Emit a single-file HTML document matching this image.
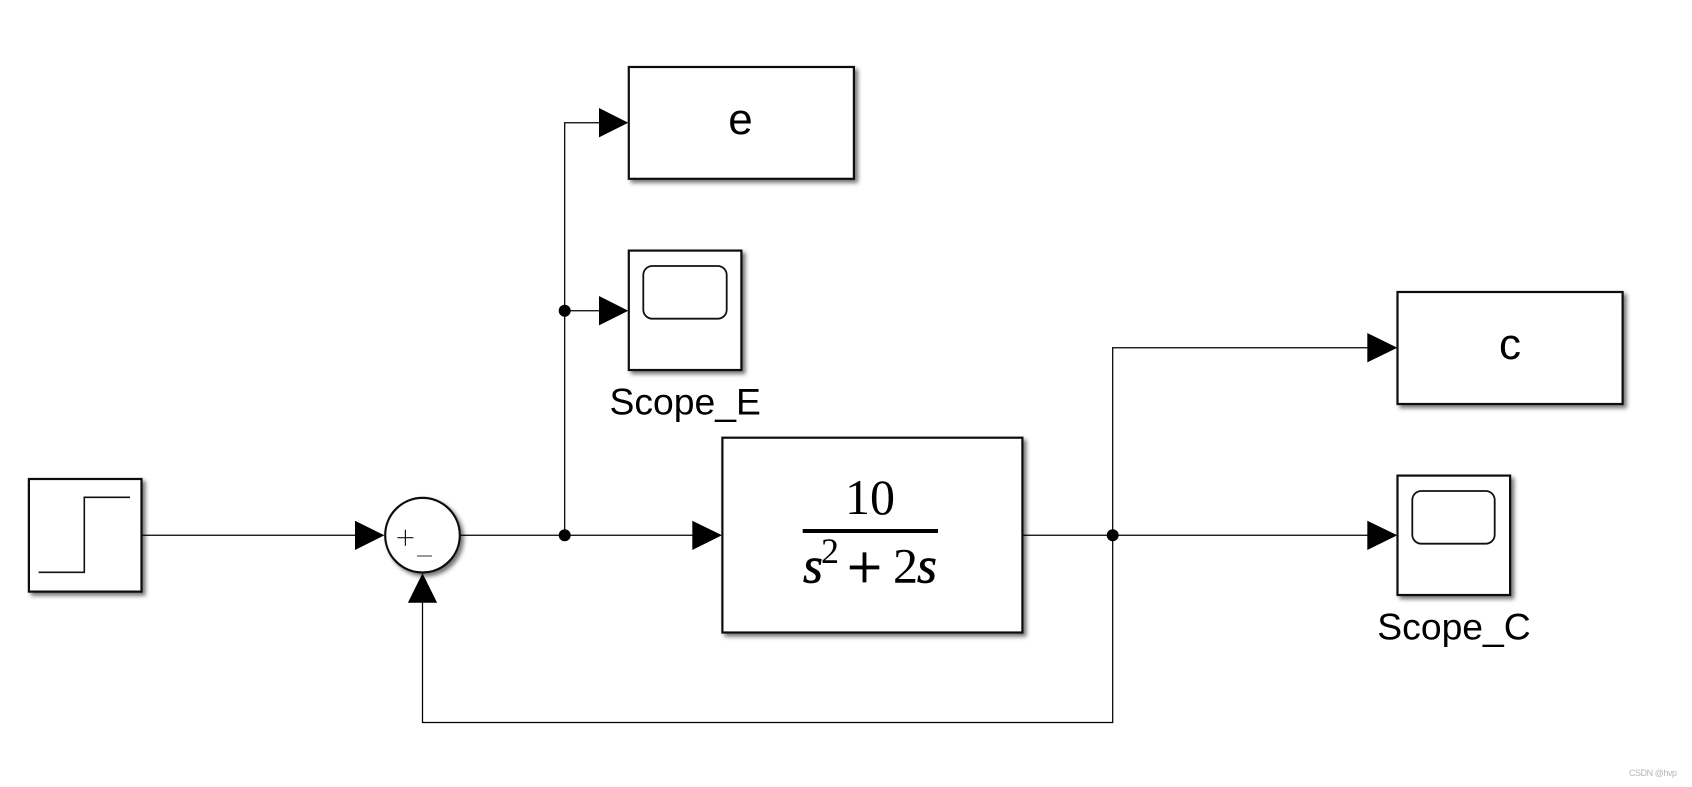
<!DOCTYPE html>
<html>
<head>
<meta charset="utf-8">
<style>
html,body{margin:0;padding:0;background:#fff;width:1692px;height:787px;overflow:hidden}
svg{display:block}
text{font-family:"Liberation Sans",sans-serif;fill:#000}
.m{font-family:"Liberation Serif",serif}
.t{stroke:#000;stroke-width:.7}
.b{fill:#fff;stroke:#111;stroke-width:2.2;filter:url(#sh)}
.l{fill:none;stroke:#000;stroke-width:1.25}
.s{fill:none;stroke:#111;stroke-width:1.6}
</style>
</head>
<body>
<svg width="1692" height="787" viewBox="0 0 1692 787" xmlns="http://www.w3.org/2000/svg">
<defs>
<filter id="sh" x="-10%" y="-10%" width="125%" height="125%">
<feDropShadow dx="3" dy="3" stdDeviation="2.2" flood-color="#000" flood-opacity="0.55"/>
</filter>
</defs>

<!-- connectors -->
<path class="l" d="M142 535.3H356"/>
<path class="l" d="M460.5 535.3H693"/>
<path class="l" d="M564.7 535.3V122.7H600"/>
<path class="l" d="M564.7 310.7H600"/>
<path class="l" d="M1023 535.3H1368"/>
<path class="l" d="M1112.7 535.3V347.7H1368"/>
<path class="l" d="M1112.7 535.3V722.5H422.5V602"/>

<!-- blocks -->
<rect class="b" x="28.9" y="479" width="112.6" height="112.6"/>
<path class="s" d="M38.6 572.3H84.3V497.3H130"/>

<circle class="b" cx="422.5" cy="535.2" r="37.3"/>
<path d="M405.4 529.7v16M397.4 537.7h16" fill="none" stroke="#111" stroke-width="1.2"/>
<path d="M417 556h15" fill="none" stroke="#777" stroke-width="1.5"/>

<rect class="b" x="628.8" y="67" width="225.1" height="111.8"/>
<text x="740.5" y="134" font-size="44" text-anchor="middle">e</text>

<rect class="b" x="628.8" y="250.6" width="112.6" height="119.4"/>
<rect x="643.3" y="266" width="83.4" height="52.7" rx="9" ry="9" fill="none" stroke="#111" stroke-width="1.8"/>
<text x="609.5" y="414.5" font-size="37.3">Scope_E</text>

<rect class="b" x="722.4" y="437.7" width="300" height="194.8"/>
<text class="m" x="870" y="514" font-size="50" text-anchor="middle">10</text>
<rect x="802.7" y="529" width="135.3" height="4" fill="#000"/>
<text class="m t" x="803" y="582.3" font-size="51" font-style="italic">s</text>
<text class="m" x="821" y="563" font-size="36">2</text>
<text class="m t" x="847" y="588" font-size="62">+</text>
<text class="m" x="893" y="582.3" font-size="50">2</text>
<text class="m t" x="917" y="582.3" font-size="51" font-style="italic">s</text>

<rect class="b" x="1397.5" y="292" width="225.1" height="112"/>
<text x="1510" y="359" font-size="44" text-anchor="middle">c</text>

<rect class="b" x="1397.5" y="475.6" width="112.6" height="119.4"/>
<rect x="1412.3" y="491" width="82.4" height="52.7" rx="9" ry="9" fill="none" stroke="#111" stroke-width="1.8"/>
<text x="1377.3" y="639.5" font-size="37.3">Scope_C</text>

<!-- arrowheads -->
<path d="M355 520.7L384.5 535.3L355 550Z" fill="#000"/>
<path d="M407.9 602.7L422.5 573.3L437.1 602.7Z" fill="#000"/>
<path d="M692.3 520.7L722 535.3L692.3 550Z" fill="#000"/>
<path d="M599 108L628.3 122.7L599 137.4Z" fill="#000"/>
<path d="M599 296L628.3 310.7L599 325.4Z" fill="#000"/>
<path d="M1367.3 333L1397.3 347.7L1367.3 362.4Z" fill="#000"/>
<path d="M1367.3 520.7L1397.3 535.3L1367.3 550Z" fill="#000"/>

<!-- junctions -->
<circle cx="564.7" cy="310.7" r="6" fill="#000"/>
<circle cx="564.7" cy="535.3" r="6" fill="#000"/>
<circle cx="1112.7" cy="535.3" r="6" fill="#000"/>

<text x="1629" y="776" font-size="9" style="fill:#b5b5b5" textLength="48">CSDN @hvp</text>
</svg>
</body>
</html>
